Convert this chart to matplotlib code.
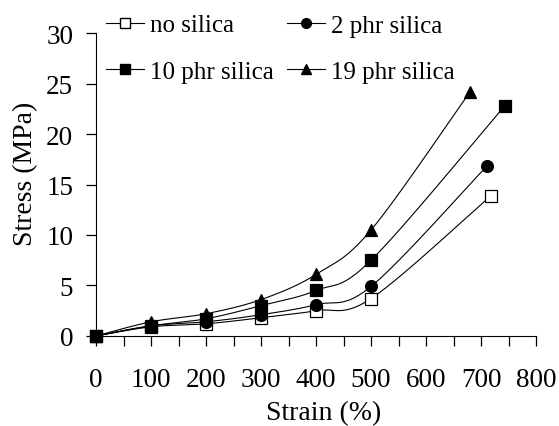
import numpy as np
import matplotlib
matplotlib.use("Agg")
import matplotlib.pyplot as plt
from matplotlib.lines import Line2D

plt.rcParams['font.family'] = ['Liberation Serif', 'DejaVu Serif']

# strain (%) and stress (MPa)
strain_none = [0, 100, 200, 300, 400, 500, 718]
stress_none = [0, 0.9, 1.2, 1.8, 2.5, 3.7, 13.9]
strain_2 = [0, 100, 200, 300, 400, 500, 710]
stress_2 = [0, 1.0, 1.4, 2.1, 3.1, 4.9, 16.8]
strain_10 = [0, 100, 200, 300, 400, 500, 743]
stress_10 = [0, 1.0, 1.7, 3.0, 4.5, 7.5, 22.8]
strain_19 = [0, 100, 200, 300, 400, 500, 680]
stress_19 = [0, 1.4, 2.2, 3.6, 6.1, 10.5, 24.2]


def smooth(x, y, n=30):
    # excel-style smoothed line (catmull-rom bezier through the points)
    p = np.column_stack([np.asarray(x, float), np.asarray(y, float)])
    out = []
    for i in range(len(p) - 1):
        p0 = p[i - 1] if i > 0 else p[i]
        p1, p2 = p[i], p[i + 1]
        p3 = p[i + 2] if i + 2 < len(p) else p[i + 1]
        c1 = p1 + (p2 - p0) / 6
        c2 = p2 - (p3 - p1) / 6
        t = np.linspace(0, 1, n)[:, None]
        seg = (1 - t) ** 3 * p1 + 3 * (1 - t) ** 2 * t * c1 + 3 * (1 - t) * t ** 2 * c2 + t ** 3 * p2
        out.append(seg)
    s = np.vstack(out)
    return s[:, 0], s[:, 1]


fig = plt.figure(figsize=(5.59, 4.27), dpi=100)
ax = fig.add_axes([0.172, 0.211, 0.787, 0.709])

series = [
    (strain_none, stress_none, 's', 'white', 'no silica', 8),
    (strain_2, stress_2, 'o', 'black', '2 phr silica', 8.5),
    (strain_10, stress_10, 's', 'black', '10 phr silica', 8),
    (strain_19, stress_19, '^', 'black', '19 phr silica', 9),
]
handles = {}
for x, y, m, fc, lab, ms in series:
    sx, sy = smooth(x, y)
    ax.plot(sx, sy, color='black', lw=0.8, clip_on=False)
    ax.plot(x, y, ls='none', marker=m, mfc=fc, mec='black', mew=0.9, ms=ms, clip_on=False, zorder=3)
    handles[lab] = Line2D([], [], color='black', lw=0.8, marker=m, mfc=fc, mec='black', ms=ms - 1.5, label=lab)

ax.set_xlim(0, 800)
ax.set_ylim(0, 30)
ax.set_xticks(np.arange(0, 801, 50))
ax.set_xticklabels([str(v) if v % 100 == 0 else '' for v in range(0, 801, 50)])
ax.set_yticks(np.arange(0, 31, 5))
for s in ['top', 'right']:
    ax.spines[s].set_visible(False)
ax.tick_params(direction='out', width=0.9, labelsize=19.5)
ax.tick_params(axis='x', length=7, pad=15.5)
ax.tick_params(axis='y', length=7.5, pad=9)
ax.set_xlabel('Strain (%)', fontsize=20)
ax.set_ylabel('Stress (MPa)', fontsize=20)
ax.xaxis.set_label_coords(0.517, -0.213)
ax.yaxis.set_label_coords(-0.133, 0.54)

# row-wise order: matplotlib fills columns first
order = ['no silica', '10 phr silica', '2 phr silica', '19 phr silica']
fig.legend(handles=[handles[k] for k in order], ncol=2, frameon=False, fontsize=18,
           loc='upper left', bbox_to_anchor=(106 / 559, 1 - 15 / 427), borderpad=0,
           borderaxespad=0, handlelength=1.5, handletextpad=0.25,
           columnspacing=0.55, labelspacing=0.95)

fig.savefig('out.png', dpi=100)
